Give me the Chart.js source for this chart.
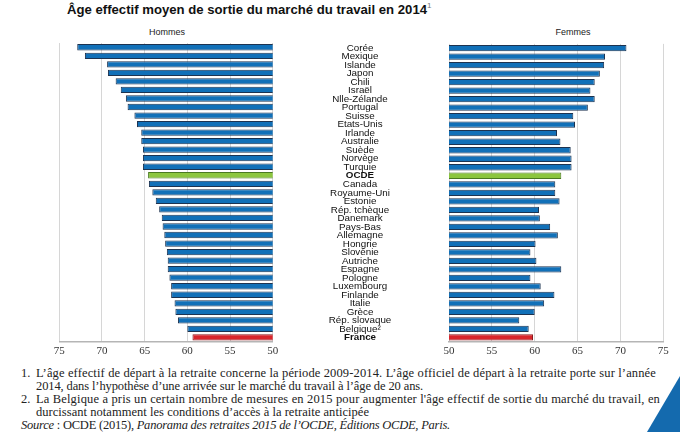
<!DOCTYPE html>
<html>
<head>
<meta charset="utf-8">
<script src="https://cdn.jsdelivr.net/npm/chart.js@4.4.1/dist/chart.umd.min.js"></script>
<style>
  html, body { margin:0; padding:0; background:#fff; }
  body { width:680px; height:432px; position:relative; overflow:hidden; font-family:"Liberation Sans", Arial, sans-serif; }
  #title { position:absolute; left:67px; top:2px; font-weight:bold; font-size:13.15px; color:#111; white-space:nowrap; }
  #title sup { font-weight:normal; font-size:8px; color:#777; vertical-align:top; position:relative; top:-1px; }
  .panel-label { position:absolute; top:27px; font-size:9px; color:#222; width:80px; text-align:center; }
  .cv { position:absolute; top:36px; height:330px; }
  #left { left:40px; width:250px; }
  #right { left:273px; width:407px; }
  .note { position:absolute; font-family:"Liberation Serif", "DejaVu Serif", serif; font-size:12.5px; color:#222; white-space:nowrap; line-height:13px; }
  #tri { position:absolute; left:647px; top:376px; width:33px; height:56px; background:#146aae; clip-path:polygon(100% 0%, 100% 100%, 0% 100%); -webkit-clip-path:polygon(100% 0%, 100% 100%, 0% 100%); z-index:10; }
</style>
</head>
<body>
<div id="title">Âge effectif moyen de sortie du marché du travail en 2014<sup>1</sup></div>
<div class="panel-label" style="left:127px;">Hommes</div>
<div class="panel-label" style="left:533px;">Femmes</div>
<div class="cv" id="left"><canvas id="cLeft" width="250" height="330"></canvas></div>
<div class="cv" id="right"><canvas id="cRight" width="407" height="330"></canvas></div>

<div class="note" style="left:21px; top:367px;">1.</div>
<div class="note" style="left:36px; top:367px;" data-w="620">L’âge effectif de départ à la retraite concerne la période 2009-2014. L’âge officiel de départ à la retraite porte sur l’année</div>
<div class="note" style="left:36px; top:380px;" data-w="387">2014, dans l’hypothèse d’une arrivée sur le marché du travail à l’âge de 20 ans.</div>
<div class="note" style="left:21px; top:393px;">2.</div>
<div class="note" style="left:36px; top:393px;" data-w="624">La Belgique a pris un certain nombre de mesures en 2015 pour augmenter l'âge effectif de sortie du marché du travail, en</div>
<div class="note" style="left:36px; top:406px;" data-w="333">durcissant notamment les conditions d’accès à la retraite anticipée</div>
<div class="note" style="left:21px; top:419px;" data-w="429"><i>Source</i> : OCDE (2015), <i>Panorama des retraites 2015 de l’OCDE, Éditions OCDE, Paris.</i></div>
<div id="tri"></div>

<script>
const categories = ["Corée","Mexique","Islande","Japon","Chili","Israël","Nlle-Zélande","Portugal","Suisse","Etats-Unis","Irlande","Australie","Suède","Norvège","Turquie","OCDE","Canada","Royaume-Uni","Estonie","Rép. tchèque","Danemark","Pays-Bas","Allemagne","Hongrie","Slovénie","Autriche","Espagne","Pologne","Luxembourg","Finlande","Italie","Grèce","Rép. slovaque","Belgique²","France"];
const hommes = [72.9,72.0,69.4,69.3,68.4,67.8,67.2,67.0,66.2,65.9,65.4,65.4,65.2,65.2,65.2,64.6,64.5,64.1,63.7,63.3,63.0,62.9,62.7,62.6,62.4,62.3,62.3,62.1,61.9,61.9,61.5,61.4,61.1,60.0,59.4];
const femmes = [70.7,68.2,68.1,67.6,67.0,66.5,67.0,66.2,64.5,64.7,62.6,63.0,64.2,64.3,64.3,63.1,62.4,62.4,62.9,60.5,60.6,61.8,62.7,60.1,59.5,60.2,63.1,59.5,60.7,62.3,61.1,60.0,58.2,59.3,59.8];
const xTicks = [50,55,60,65,70,75];
const highlight = {"OCDE":"#8cc63f","France":"#d9262c"};
</script>
<script>
document.querySelectorAll('.note[data-w]').forEach(el => {
  const target = +el.dataset.w;
  const w = el.getBoundingClientRect().width;
  const n = el.textContent.length;
  el.style.letterSpacing = ((target - w) / n).toFixed(3) + 'px';
});

const BLUE = "#1170b8", BORDER = "#1d3350";
function barColors(){ return categories.map(c => highlight[c] || BLUE); }
function borderColors(){ return categories.map(c => c==="OCDE" ? "#4a7a22" : (c==="France" ? "#8a1a1d" : BORDER)); }
const boldSet = new Set(["OCDE","France"]);
const labelFamily = '"Liberation Sans", Arial, sans-serif';
const labelSize = 9.8;

const mctx = document.createElement('canvas').getContext('2d');
let widest = 0;
categories.forEach(c => { mctx.font = (boldSet.has(c)?'bold ':'') + labelSize + 'px ' + labelFamily; widest = Math.max(widest, mctx.measureText(c).width); });
const tickPad = 2;
const tickLen = 449 - 360 - widest/2 - tickPad;

function xScale(reverse){
  return {
    type:'linear', min:50, max:75, reverse:reverse,
    afterBuildTicks: s => { s.ticks = xTicks.map(v => ({value:v})); },
    ticks:{ font:{family:'"Liberation Serif", "DejaVu Serif", serif', size:11}, color:'#333', padding:3, maxRotation:0 },
    grid:{ color:'#d6d6d6', lineWidth:1, drawTicks:false },
    border:{ display:true, color:'#b5b5b5', width:1.5 },
    afterFit: s => { s.height = 20; }
  };
}
const common = {
  responsive:false, animation:false, indexAxis:'y',
  plugins:{ legend:{display:false}, tooltip:{enabled:false} },
};
function ds(data){
  return [{ data:data, backgroundColor:barColors(), borderColor:borderColors(), borderWidth:1, borderSkipped:false, barPercentage:0.74, categoryPercentage:1 }];
}
new Chart(document.getElementById('cLeft'), {
  type:'bar',
  data:{ labels:categories, datasets:ds(hommes) },
  options:Object.assign({}, common, {
    layout:{ padding:{ left:19.3, right:17.3, top:7, bottom:4.3 } },
    scales:{ x:xScale(true), y:{ display:false } }
  })
});
new Chart(document.getElementById('cRight'), {
  type:'bar',
  data:{ labels:categories, datasets:ds(femmes) },
  options:Object.assign({}, common, {
    layout:{ padding:{ left:0, right:16.7, top:7, bottom:4.3 } },
    scales:{
      x:xScale(false),
      y:{
        afterFit: s => { s.width = 176; },
        grid:{ display:true, drawOnChartArea:false, drawTicks:true, tickLength:tickLen, tickColor:'rgba(0,0,0,0)' },
        border:{ display:false },
        ticks:{ crossAlign:'center', padding:tickPad, color:'#111', autoSkip:false,
          font: ctx => ({ family:labelFamily, size:labelSize, weight: boldSet.has(categories[ctx.index]) ? 'bold' : 'normal' }) }
      }
    }
  })
});
</script>
</body>
</html>
